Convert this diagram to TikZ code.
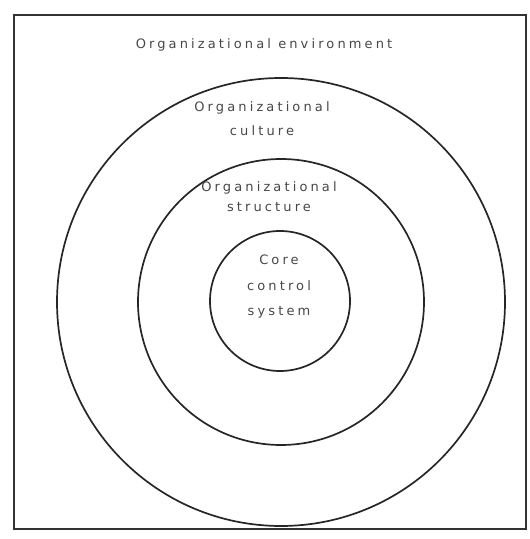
\documentclass[tikz,border=0pt]{standalone}
\usepackage{fontspec}
\newfontfamily\hand[LetterSpace=24]{DejaVu Sans}
\tikzset{
  ring/.style={circle, draw=black!85, line width=1.7pt, inner sep=0pt},
  lbl/.style={text=black!72, font=\hand\fontsize{13}{24}\selectfont, align=center, inner sep=0pt}
}
\begin{document}
\begin{tikzpicture}[x=1pt, y=1pt]
       \useasboundingbox (0, 0) rectangle (530, 539);
       \draw[line width=1.8pt, black!80] (14, 524) node[coordinate](tl){}
       (526, 10) node[coordinate](br){};
       \draw[line width=1.8pt, black!80] (tl) rectangle (br);

       \draw (281, 237) node[ring, minimum size=448pt](r1){}
       (281, 237) node[ring, minimum size=286pt](r2){}
       (280, 238) node[ring, minimum size=140pt](r3){};

       \draw (264, 494) node[lbl](env){Organizational environment}
       (262, 420) node[lbl](cult){Organizational\\culture}
       (269, 342) node[lbl, font=\hand\fontsize{13}{20}\selectfont](struc){Organizational\\structure}
       (279, 252) node[lbl, font=\hand\fontsize{13}{25.5}\selectfont](core){Core\\control\\system};
\end{tikzpicture}
\end{document}
